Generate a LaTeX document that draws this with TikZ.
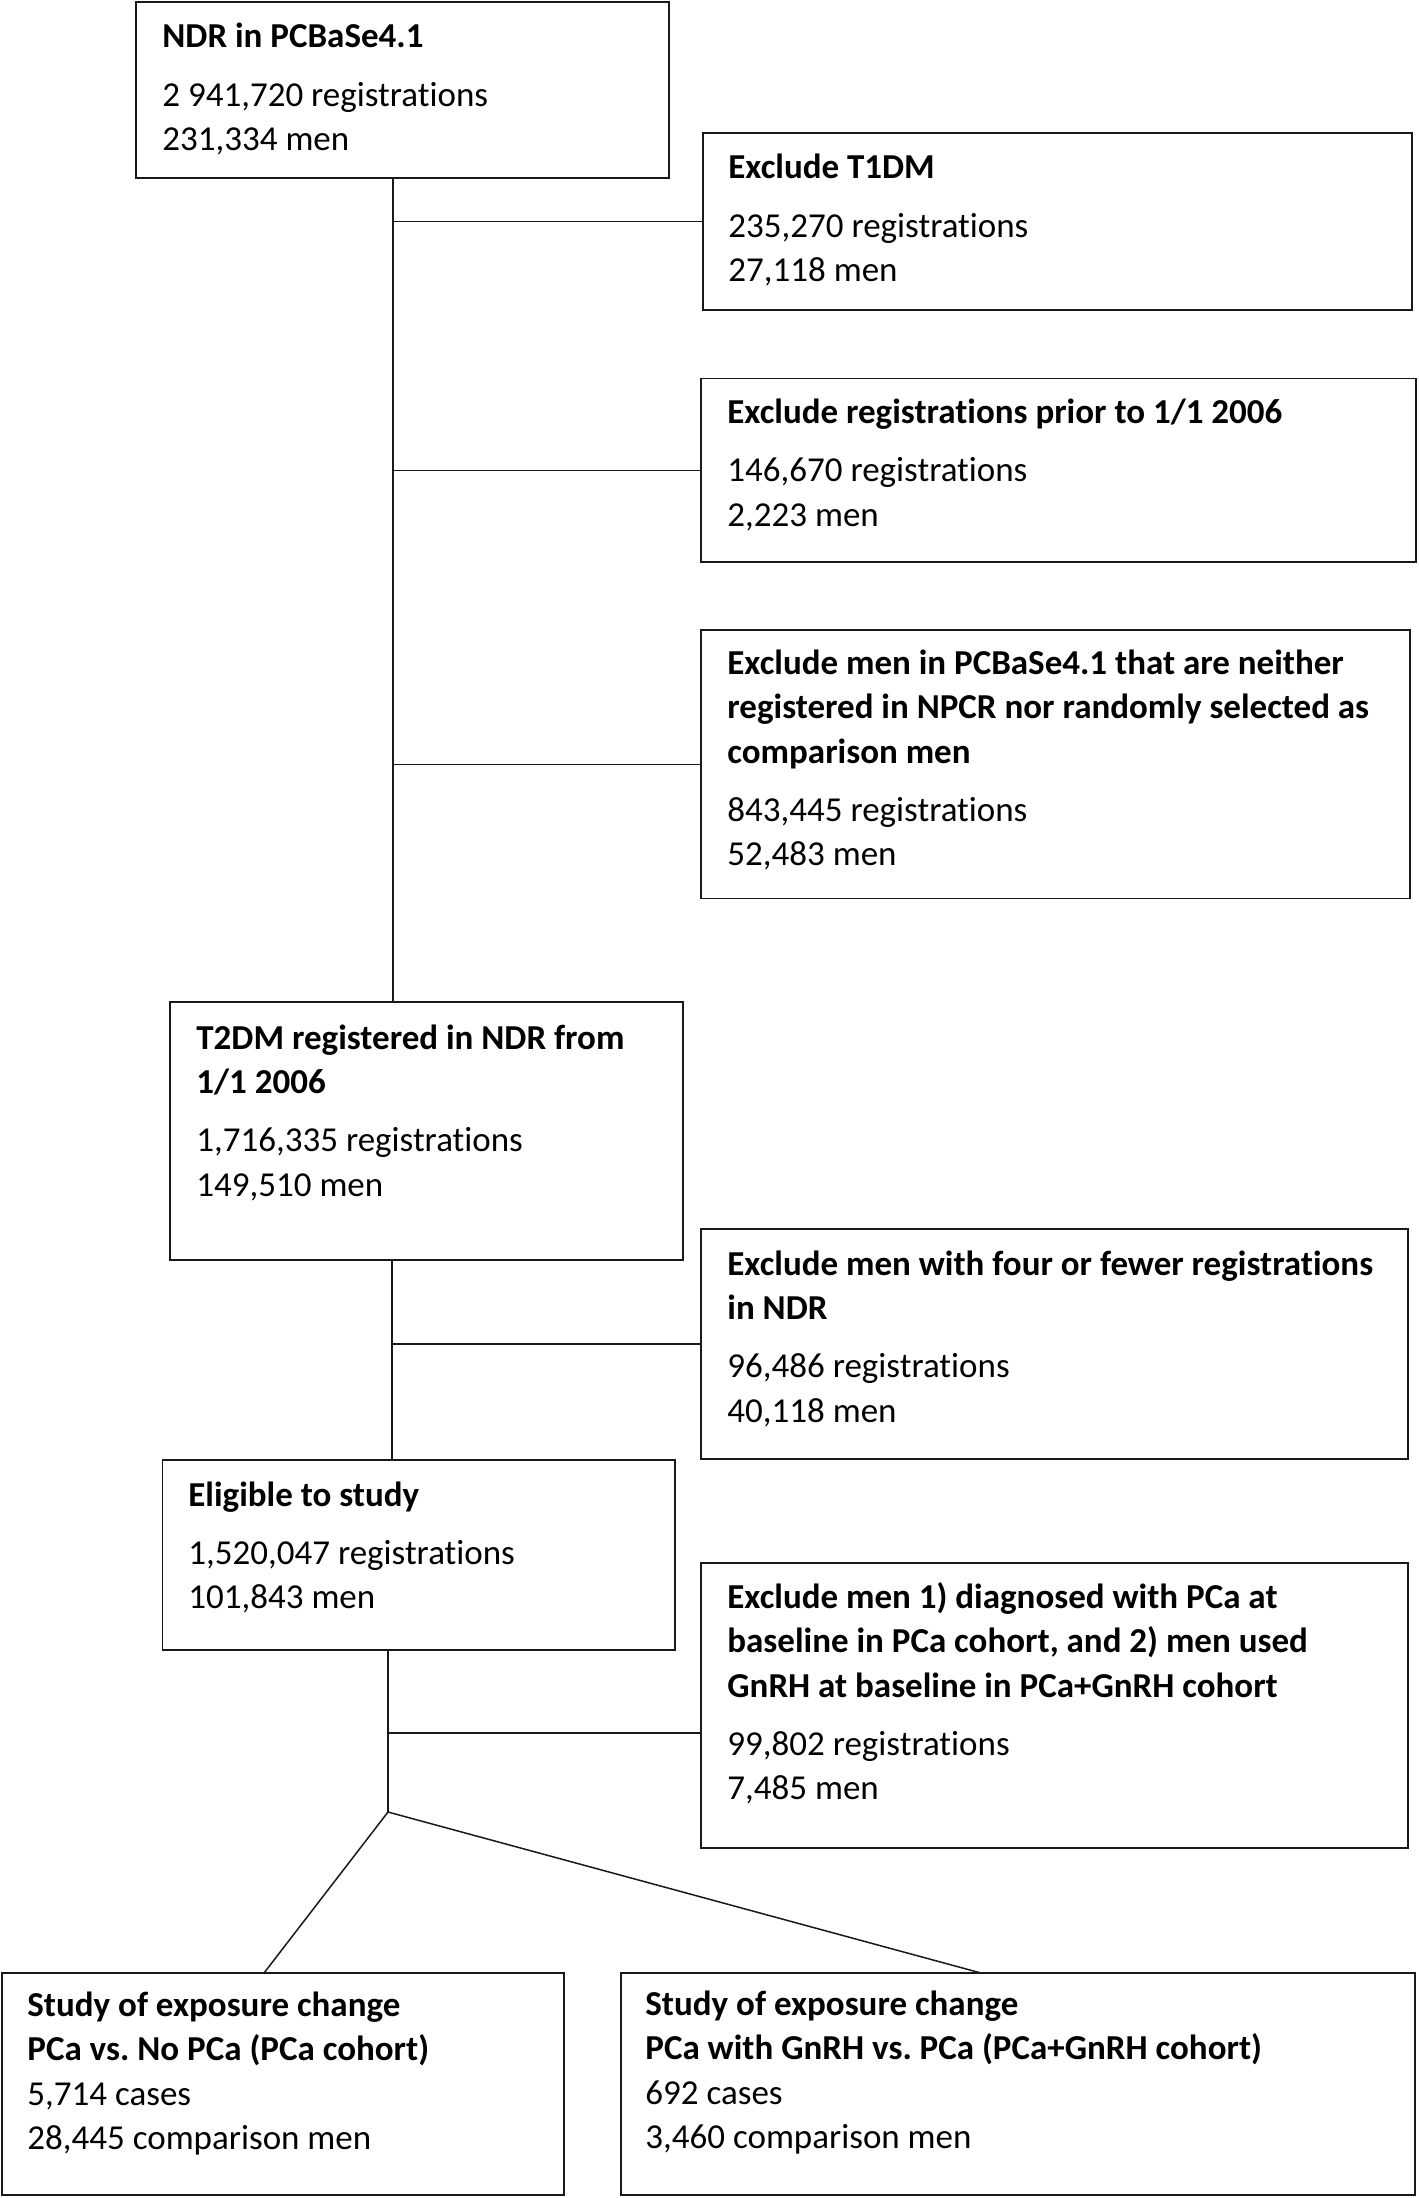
\documentclass[tikz,border=0pt]{standalone}
\usepackage{fontspec}
\setmainfont[Ligatures=NoCommon]{Carlito}
\begin{document}
\frenchspacing
\begin{tikzpicture}[x=0.5pt,y=-0.5pt,
  box/.style={draw=black!90,line width=0.75pt,inner sep=0pt,outer sep=0pt,anchor=north west},
  txt/.style={inner sep=0pt,anchor=base west,font=\fontsize{17.5}{22.25}\selectfont},
  link/.style={draw=black!90,line width=0.75pt}]
\useasboundingbox (0,0) rectangle (1418,2198);
\newcommand{\tg}{6.8pt}
\newcommand{\lines}[1]{\parbox[t]{345pt}{\raggedright\frenchspacing #1}}
% boxes
\node[box,minimum width=266.5pt,minimum height=88pt] (b1) at (136,2) {};
\node[box,minimum width=354.5pt,minimum height=88.5pt] (b2) at (703,133) {};
\node[box,minimum width=357.5pt,minimum height=91.7pt] (b3) at (701,378.6) {};
\node[box,minimum width=354.5pt,minimum height=134.3pt] (b4) at (701,630) {};
\node[box,minimum width=256.5pt,minimum height=129pt] (b5) at (170,1002) {};
\node[box,minimum width=353.5pt,minimum height=115pt] (b6) at (701,1229) {};
\node[box,minimum width=256.2pt,minimum height=95pt] (b7) at (162.5,1460) {};
\node[box,minimum width=353.5pt,minimum height=142.5pt] (b8) at (701,1563) {};
\node[box,minimum width=281pt,minimum height=111pt] (b9) at (2,1973) {};
\node[box,minimum width=397pt,minimum height=111pt] (b10) at (621,1973) {};
% texts
\node[txt] (x1) at (162,48) {\lines{\textbf{NDR in PCBaSe4.1}\\[\tg]2 941,720 registrations\\231,334 men}};
\node[txt] (x2) at (728,179) {\lines{\textbf{Exclude T1DM}\\[\tg]235,270 registrations\\27,118 men}};
\node[txt] (x3) at (727,423.6) {\lines{\textbf{Exclude registrations prior to 1/1 2006}\\[\tg]146,670 registrations\\2,223 men}};
\node[txt] (x4) at (727,674) {\lines{\textbf{Exclude men in PCBaSe4.1 that are neither}\\\textbf{registered in NPCR nor randomly selected as}\\\textbf{comparison men}\\[\tg]843,445 registrations\\52,483 men}};
\node[txt] (x5) at (196,1049) {\lines{\textbf{T2DM registered in NDR from}\\\textbf{1/1 2006}\\[\tg]1,716,335 registrations\\149,510 men}};
\node[txt] (x6) at (727,1275) {\lines{\textbf{Exclude men with four or fewer registrations}\\\textbf{in NDR}\\[\tg]96,486 registrations\\40,118 men}};
\node[txt] (x7) at (188,1506) {\lines{\textbf{Eligible to study}\\[\tg]1,520,047 registrations\\101,843 men}};
\node[txt] (x8) at (727,1608) {\lines{\textbf{Exclude men 1) diagnosed with PCa at}\\\textbf{baseline in PCa cohort, and 2) men used}\\\textbf{GnRH at baseline in PCa+GnRH cohort}\\[\tg]99,802 registrations\\7,485 men}};
\node[txt] (x9) at (27,2016) {\lines{\textbf{Study of exposure change}\\\textbf{PCa vs. No PCa (PCa cohort)}\\5,714 cases\\28,445 comparison men}};
\node[txt] (x10) at (645,2015) {\lines{\textbf{Study of exposure change}\\\textbf{PCa with GnRH vs. PCa (PCa+GnRH cohort)}\\692 cases\\3,460 comparison men}};
% connector coordinates
\coordinate (ta) at (393,0);
\coordinate (tb) at (392,0);
\coordinate (j5) at (388,1733);
\coordinate (jn) at (388,1812);
\coordinate (e9) at (264,1973);
\coordinate (e10) at (981,1973);
% connectors
\draw[link] (b1.south -| ta) -- (b5.north -| ta);
\draw[link] (b2.west -| ta) -- (b2.west);
\draw[link] (b3.west -| ta) -- (b3.west);
\draw[link] (b4.west -| ta) -- (b4.west);
\draw[link] (b5.south -| tb) -- (b7.north -| tb);
\draw[link] (b6.west -| tb) -- (b6.west);
\draw[link] (b7.south -| jn) -- (jn);
\draw[link] (j5) -- (b8.west |- j5);
\draw[link] (jn) -- (e9);
\draw[link] (jn) -- (e10);
\end{tikzpicture}
\end{document}
